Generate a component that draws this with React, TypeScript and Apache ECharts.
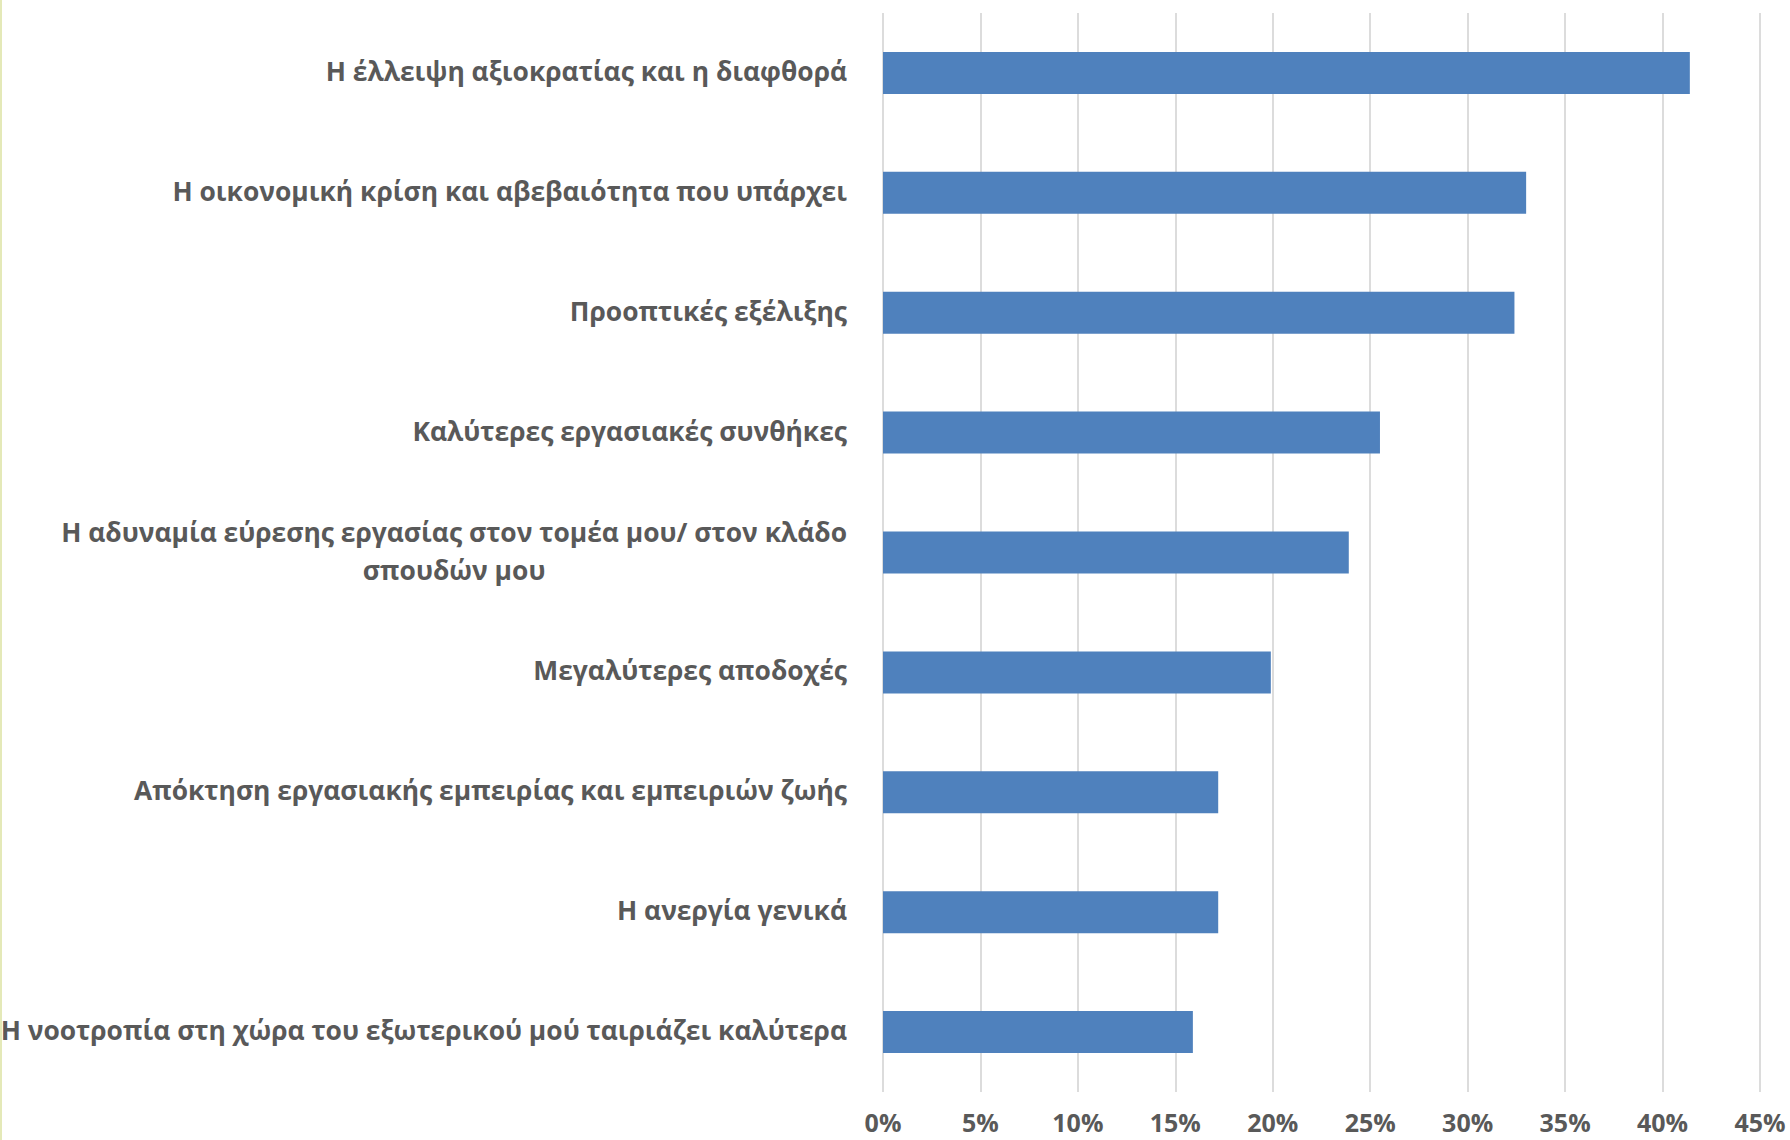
import React, { useEffect, useRef } from "react";
import * as echarts from "echarts";

const categories: string[] = [
  "Η έλλειψη αξιοκρατίας και η διαφθορά",
  "Η οικονομική κρίση και αβεβαιότητα που υπάρχει",
  "Προοπτικές εξέλιξης",
  "Καλύτερες εργασιακές συνθήκες",
  "Η αδυναμία εύρεσης εργασίας στον τομέα μου/ στον κλάδο\nσπουδών μου",
  "Μεγαλύτερες αποδοχές",
  "Απόκτηση εργασιακής εμπειρίας και εμπειριών ζωής",
  "Η ανεργία γενικά",
  "Η νοοτροπία στη χώρα του εξωτερικού μού ταιριάζει καλύτερα",
];

const values: number[] = [0.414, 0.33, 0.324, 0.255, 0.239, 0.199, 0.172, 0.172, 0.159];

const tickLabels: string[] = ["0%", "5%", "10%", "15%", "20%", "25%", "30%", "35%", "40%", "45%"];

export default function App() {
  const ref = useRef<HTMLDivElement>(null);

  useEffect(() => {
    document.body.style.margin = "0";
    if (!ref.current) return;
    const chart = echarts.init(ref.current, null, { renderer: "svg" });
    const textColor = "#595959";
    const font = "'Open Sans', sans-serif";
    chart.setOption({
      animation: false,
      backgroundColor: "#ffffff",
      grid: {
        left: 883,
        right: 30,
        top: 13,
        bottom: 48,
        containLabel: false,
        outerBoundsMode: "none",
      },
      xAxis: {
        type: "value",
        min: 0,
        max: 0.45,
        interval: 0.05,
        axisLine: { show: false },
        axisTick: { show: false },
        splitLine: { show: true, lineStyle: { color: "#dcdcdc", width: 2 } },
        axisLabel: {
          margin: 17,
          color: textColor,
          fontFamily: font,
          fontWeight: "bold",
          fontSize: 25,
          formatter: (v: number) => tickLabels[Math.round(v / 0.05)] ?? "",
        },
      },
      yAxis: {
        type: "category",
        inverse: true,
        data: categories,
        axisLine: { show: false },
        axisTick: { show: false },
        axisLabel: {
          margin: 36,
          color: textColor,
          fontFamily: font,
          fontWeight: "bold",
          fontSize: 26.4,
          lineHeight: 38,
          formatter: (v: string) =>
            v
              .split("\n")
              .map((l) => `{c|${l}}`)
              .join("\n"),
          rich: {
            c: {
              align: "center",
              color: textColor,
              fontFamily: font,
              fontWeight: "bold",
              fontSize: 26.4,
              lineHeight: 38,
              padding: [0, 0, 4, 0],
            },
          },
        },
      },
      series: [
        {
          type: "bar",
          data: values,
          barWidth: 42,
          itemStyle: { color: "#4f81bd" },
        },
      ],
      graphic: [
        {
          type: "line",
          shape: { x1: 1, y1: 0, x2: 1, y2: 1140 },
          style: { stroke: "#e4e9b8", lineWidth: 2 },
        },
      ],
    });
    return () => chart.dispose();
  }, []);

  return <div ref={ref} style={{ width: 1790, height: 1140 }} />;
}
